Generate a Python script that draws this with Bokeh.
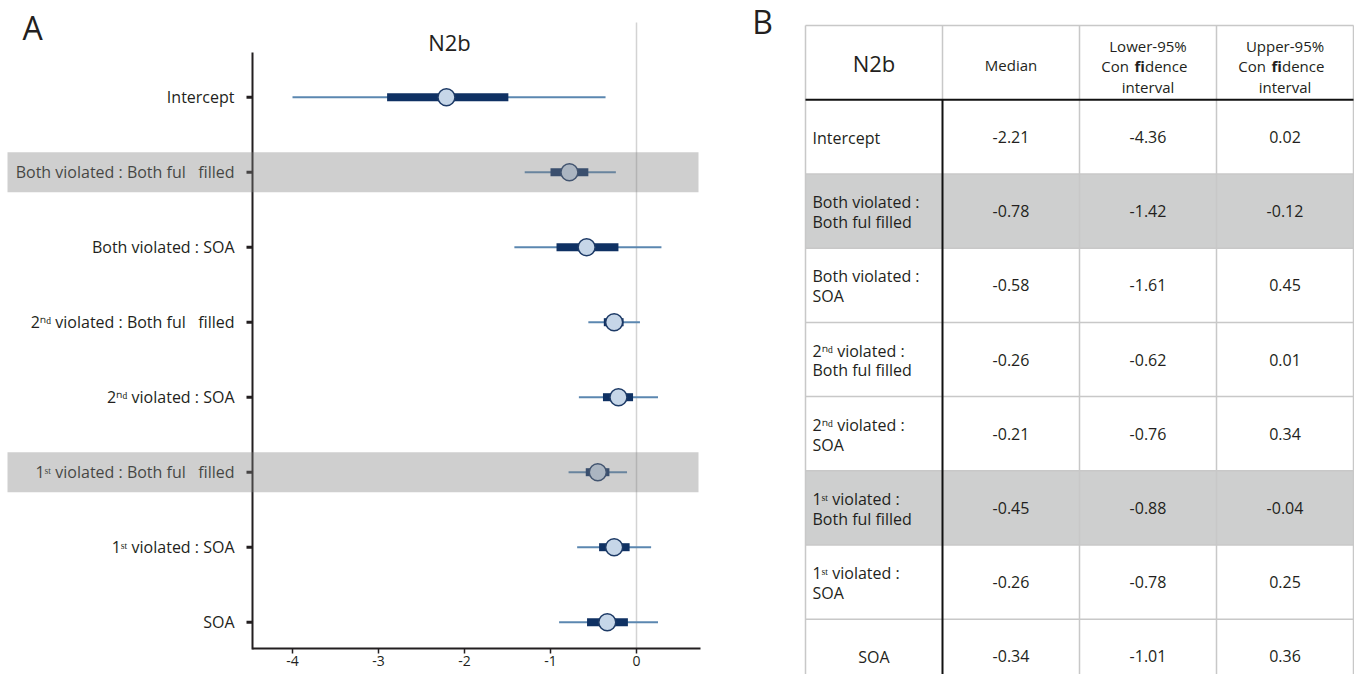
from bokeh.plotting import figure
from bokeh.layouts import row
from bokeh.models import Range1d, ColumnDataSource, FixedTicker, PrintfTickFormatter
from bokeh.core.properties import value
from bokeh.embed import file_html
from bokeh.resources import INLINE

# ---------------- data ----------------
plot_labels = ["Intercept",
               "Both violated : Both ful\u00a0\u00a0 filled",
               "Both violated : SOA",
               "2\u207f\u1d48 violated : Both ful\u00a0\u00a0 filled",
               "2\u207f\u1d48 violated : SOA",
               "1\u02e2\u1d57 violated : Both ful\u00a0\u00a0 filled",
               "1\u02e2\u1d57 violated : SOA",
               "SOA"]
table_labels = ["Intercept",
                "Both violated :\nBoth ful filled",
                "Both violated :\nSOA",
                "2\u207f\u1d48 violated :\nBoth ful filled",
                "2\u207f\u1d48 violated :\nSOA",
                "1\u02e2\u1d57 violated :\nBoth ful filled",
                "1\u02e2\u1d57 violated :\nSOA",
                "SOA"]
median = [-2.21, -0.78, -0.58, -0.26, -0.21, -0.45, -0.26, -0.34]
lower95 = [-4.36, -1.42, -1.61, -0.62, -0.76, -0.88, -0.78, -1.01]
upper95 = [0.02, -0.12, 0.45, 0.01, 0.34, -0.04, 0.25, 0.36]
# interval ends as drawn in the forest plot
outer_lo = [-4.00, -1.30, -1.42, -0.56, -0.67, -0.79, -0.69, -0.90]
outer_hi = [-0.36, -0.24, 0.29, 0.04, 0.25, -0.11, 0.17, 0.25]
inner_lo = [-2.90, -1.00, -0.93, -0.38, -0.39, -0.59, -0.435, -0.575]
inner_hi = [-1.49, -0.56, -0.21, -0.15, -0.04, -0.315, -0.08, -0.10]
shaded_rows = [1, 5]
x_ticks = [-4, -3, -2, -1, 0]
header_cols = ["N2b", "Median"]

FONT = value("Open Sans")
INK = "#231f20"
NAVY = "#0f3163"
THIN = "#5b87b0"
PT_FILL = "#c6d6e8"
PT_LINE = "#1d3a66"

# ---------------- panel A (forest plot) ----------------
def ax(px):
    return (px - 636.0) / 86.0

def ay(py):
    return (py - 96.7) / 75.0

AXIS_Y = 648
idx = list(range(len(median)))

pA = figure(width=740, height=674, x_range=Range1d(ax(0), ax(740)),
            y_range=Range1d(ay(674), ay(0)), toolbar_location=None,
            output_backend="svg", min_border=0, y_axis_location=None,
            x_axis_location="below", outline_line_color=None)
pA.xgrid.grid_line_color = None
pA.ygrid.grid_line_color = None

srcA = ColumnDataSource(dict(y=idx, med=median, olo=outer_lo, ohi=outer_hi,
                             ilo=inner_lo, ihi=inner_hi, lab=plot_labels))

# zero reference line
pA.segment(x0=[0], y0=[ay(22)], x1=[0], y1=[ay(AXIS_Y)], line_color="#d3d3d3", line_width=1.5)
# intervals
pA.segment(x0="olo", y0="y", x1="ohi", y1="y", source=srcA, line_color=THIN, line_width=2)
pA.segment(x0="ilo", y0="y", x1="ihi", y1="y", source=srcA, line_color=NAVY, line_width=8)
pA.scatter(x="med", y="y", source=srcA, size=17, fill_color=PT_FILL,
           line_color=PT_LINE, line_width=1.5)

# y axis line and ticks
pA.segment(x0=[ax(252)], y0=[ay(52)], x1=[ax(252)], y1=[ay(AXIS_Y + 1)], line_color=INK, line_width=2)
pA.segment(x0=[ax(246)] * len(idx), y0=idx, x1=[ax(252)] * len(idx), y1=idx,
           line_color=INK, line_width=3)
# category labels
pA.text(x=ax(234), y="y", text="lab", source=srcA, text_align="right",
        text_baseline="middle", text_font=FONT, text_font_size=value("16px"),
        text_color=INK)
# title and panel letter
pA.text(x=[ax(449)], y=[ay(41)], text=["N2b"], text_align="center", text_baseline="middle",
        text_font=FONT, text_font_size=value("22px"), text_color=INK)
pA.text(x=[ax(32)], y=[ay(27)], text=["A"], text_align="center", text_baseline="middle",
        text_font=FONT, text_font_size=value("32px"), text_color=INK)

# highlighted rows (translucent grey bands on top)
pA.hbar(y=shaded_rows, left=ax(7), right=ax(698), height=40 / 75.0,
        fill_color="#808080", fill_alpha=0.38, line_color=None)

# x axis
xa = pA.xaxis[0]
xa.fixed_location = ay(AXIS_Y)
xa.bounds = (ax(252), ax(700))
xa.ticker = FixedTicker(ticks=x_ticks)
xa.formatter = PrintfTickFormatter(format="%d")
xa.axis_line_color = INK
xa.axis_line_width = 2
xa.major_tick_line_color = INK
xa.major_tick_line_width = 1.5
xa.major_tick_out = 5
xa.major_tick_in = 0
xa.minor_tick_line_color = None
xa.major_label_standoff = 2
xa.major_label_text_font = "Open Sans"
xa.major_label_text_font_size = "14px"
xa.major_label_text_color = INK

# ---------------- panel B (table) ----------------
BX0, BW = 805.0, 137.0
BY0, BH = 99.3, 74.2

def bx(px):
    return (px - BX0) / BW

def by(py):
    return (py - BY0) / BH

pB = figure(width=614, height=674, x_range=Range1d(bx(740), bx(1354)),
            y_range=Range1d(by(674), by(0)), toolbar_location=None,
            output_backend="svg", min_border=0, x_axis_location=None,
            y_axis_location=None, outline_line_color=None)
pB.xgrid.grid_line_color = None
pB.ygrid.grid_line_color = None

nrows = len(median)
bottom = by(700)
# shaded rows
pB.quad(left=[0] * len(shaded_rows), right=[4] * len(shaded_rows),
        top=shaded_rows, bottom=[r + 1 for r in shaded_rows],
        fill_color="#cecfcf", line_color=None)
# light grid lines
GRID = "#c8c8c8"
pB.segment(x0=[0] * nrows, y0=[-1] + list(range(1, nrows)), x1=[4] * nrows,
           y1=[-1] + list(range(1, nrows)), line_color=GRID, line_width=1.5)
pB.segment(x0=[0, 2, 3, 4, 1], y0=[-1, -1, -1, -1, -1], x1=[0, 2, 3, 4, 1],
           y1=[bottom, bottom, bottom, bottom, 0], line_color=GRID, line_width=1.5)
# heavy lines
pB.segment(x0=[0, 1], y0=[0, 0], x1=[4, 1], y1=[0, bottom], line_color="#111111", line_width=2)

# header
pB.text(x=[0.5], y=[-0.5], text=[header_cols[0]], text_align="center", text_baseline="middle",
        text_font=FONT, text_font_size=value("22px"), text_color=INK)
pB.text(x=[1.5], y=[-0.5], y_offset=2, text=[header_cols[1]], text_align="center",
        text_baseline="middle", text_font=FONT, text_font_size=value("15px"), text_color=INK)
for c, first in ((2.5, "Lower-95%"), (3.5, "Upper-95%")):
    pB.text(x=[c], y=[-0.5], y_offset=-17, text=[first], text_align="center",
            text_baseline="middle", text_font=FONT, text_font_size=value("15px"), text_color=INK)
    pB.text(x=[c], y=[-0.5], y_offset=24, text=["interval"], text_align="center",
            text_baseline="middle", text_font=FONT, text_font_size=value("15px"), text_color=INK)
    pB.text(x=[c], y=[-0.5], x_offset=-19, y_offset=3.5, text=["Con"], text_align="right",
            text_baseline="middle", text_font=FONT, text_font_size=value("15px"), text_color=INK)
    pB.text(x=[c], y=[-0.5], x_offset=-3, y_offset=3.5, text=["fi"], text_align="right",
            text_baseline="middle", text_font=FONT, text_font_size=value("15px"),
            text_font_style="bold", text_color=INK)
    pB.text(x=[c], y=[-0.5], x_offset=-3, y_offset=3.5, text=["dence"], text_align="left",
            text_baseline="middle", text_font=FONT, text_font_size=value("15px"), text_color=INK)

# body
ymid = [i + 0.5 for i in range(nrows)]
lab_x = [0.5 if t == "SOA" else 0 for t in table_labels]
lab_off = [0 if t == "SOA" else 7 for t in table_labels]
lab_al = ["center" if t == "SOA" else "left" for t in table_labels]
srcB = ColumnDataSource(dict(y=ymid, lx=lab_x, lo=lab_off, la=lab_al, lab=table_labels,
                             med=["%.2f" % v for v in median],
                             low=["%.2f" % v for v in lower95],
                             upp=["%.2f" % v for v in upper95]))
pB.text(x="lx", y="y", x_offset="lo", y_offset=1, text="lab", text_align="la", source=srcB,
        text_baseline="middle", text_font=FONT, text_font_size=value("16px"),
        text_color=INK, text_line_height=0.9)
for c, col in ((1.5, "med"), (2.5, "low"), (3.5, "upp")):
    pB.text(x=c, y="y", text=col, source=srcB, text_align="center", text_baseline="middle",
            text_font=FONT, text_font_size=value("16px"), text_color=INK)
pB.text(x=[bx(762)], y=[by(21)], text=["B"], text_align="center", text_baseline="middle",
        text_font=FONT, text_font_size=value("32px"), text_color=INK)

layout = row(pA, pB)
open("out.html", "w").write(file_html(layout, INLINE))
